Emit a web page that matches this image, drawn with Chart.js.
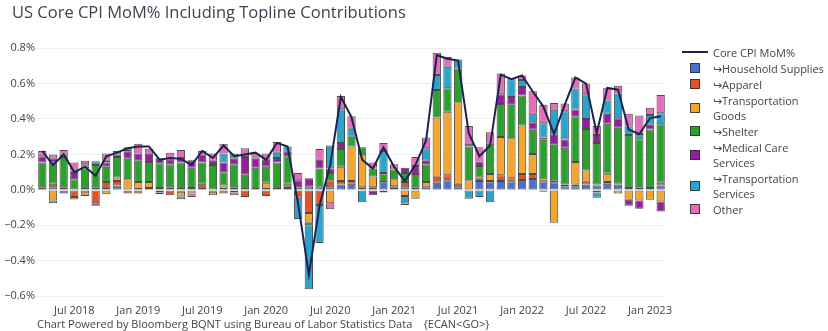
<!DOCTYPE html>
<html>
<head>
<meta charset="utf-8">
<script src="https://cdn.jsdelivr.net/npm/chart.js@4.4.0/dist/chart.umd.min.js"></script>
<style>
  body { margin: 0; background: #fff; }
  #wrap { position: relative; width: 828px; height: 331px; overflow: hidden; font-family: 'Open Sans', sans-serif; color: #444; }
  #cpiChart { position: absolute; left: 0; top: 0; }
  #title { position: absolute; left: 12px; top: 1px; font-size: 16.5px; line-height: 22px; color: #3d4450; white-space: nowrap; }
  #footer { position: absolute; left: 37px; top: 317px; font-size: 11px; line-height: 14px; white-space: pre; }
  #legend { position: absolute; left: 682px; top: 44.5px; font-size: 11px; }
  .item { display: flex; align-items: center; line-height: 15px; margin-bottom: 1px; }
  .sym { width: 26px; flex: none; display: flex; justify-content: center; margin-right: 5px; }
  .sym i { display: block; }
  .sym.box i { width: 10px; height: 10px; box-sizing: border-box; border: 1px solid rgba(45,45,45,0.85); }
  .sym.line i { width: 26px; height: 2px; background: #1d2251; }
  .txt { white-space: pre-line; }
</style>
</head>
<body>
<div id="wrap">
  <canvas id="cpiChart" width="828" height="331"></canvas>
  <div id="title">US Core CPI MoM% Including Topline Contributions</div>
  <div id="legend"></div>
  <div id="footer">Chart Powered by Bloomberg BQNT using Bureau of Labor Statistics Data    {ECAN&lt;GO&gt;}</div>
</div>
<script>
// data months (plotted at month end)
const months = [
  '2018-03','2018-04','2018-05','2018-06','2018-07','2018-08','2018-09','2018-10','2018-11','2018-12',
  '2019-01','2019-02','2019-03','2019-04','2019-05','2019-06','2019-07','2019-08','2019-09','2019-10','2019-11','2019-12',
  '2020-01','2020-02','2020-03','2020-04','2020-05','2020-06','2020-07','2020-08','2020-09','2020-10','2020-11','2020-12',
  '2021-01','2021-02','2021-03','2021-04','2021-05','2021-06','2021-07','2021-08','2021-09','2021-10','2021-11','2021-12',
  '2022-01','2022-02','2022-03','2022-04','2022-05','2022-06','2022-07','2022-08','2022-09','2022-10','2022-11','2022-12',
  '2023-01'
];

const coreCpi = [
  0.22, 0.14, 0.20, 0.10, 0.13, 0.08, 0.19, 0.21, 0.235, 0.245,
  0.245, 0.17, 0.18, 0.175, 0.14, 0.22, 0.18, 0.25, 0.19, 0.20, 0.21, 0.17,
  0.265, 0.245, -0.08, -0.48, -0.09, 0.14, 0.525, 0.41, 0.17, 0.12, 0.24, 0.13,
  0.05, 0.14, 0.28, 0.76, 0.74, 0.73, 0.32, 0.19, 0.25, 0.65, 0.625, 0.645,
  0.555, 0.47, 0.315, 0.48, 0.635, 0.60, 0.32, 0.575, 0.565, 0.34, 0.315, 0.405,
  0.415
];

const household = [
  0.005, 0.015, -0.02, 0.0, 0.005, 0.01, 0.005, 0.025, 0.0, 0.005,
  0.01, 0.01, 0.01, -0.01, 0.005, 0.005, -0.01, 0.005, 0.01, 0.005, 0.005, 0.005,
  0.005, 0.01, 0.0, 0.02, 0.02, 0.015, 0.03, 0.035, 0.005, 0.01, 0.04, 0.005,
  0.015, 0.005, 0.015, 0.04, 0.055, 0.015, 0.0, 0.05, 0.04, 0.05, 0.04, 0.056,
  0.062, 0.04, 0.043, 0.02, 0.02, 0.03, 0.025, 0.034, 0.03, 0.01, 0.01, 0.005,
  0.025
];

const apparel = [
  0.01, 0.02, 0.005, -0.04, -0.02, -0.075, 0.04, 0.025, -0.02, -0.02,
  0.0, 0.0, -0.03, 0.005, 0.005, 0.03, 0.0, -0.02, 0.005, -0.04, 0.0, -0.035,
  0.0, 0.01, -0.045, -0.13, -0.085, 0.04, 0.02, 0.015, 0.01, 0.005, 0.005, 0.015,
  0.03, 0.01, 0.0, 0.034, 0.028, 0.02, 0.0, 0.02, 0.01, 0.032, 0.025, 0.034,
  0.028, 0.018, 0.012, 0.01, 0.011, 0.023, 0.005, 0.01, 0.005, 0.0, 0.005, 0.005,
  0.015
];

const transGoods = [
  -0.005, -0.06, 0.01, -0.015, -0.015, 0.005, -0.025, 0.02, 0.06, 0.04,
  0.034, -0.015, 0.005, -0.028, -0.02, 0.0, -0.02, 0.02, -0.015, 0.0, 0.0, 0.035,
  0.0, 0.015, 0.0, -0.055, 0.0, -0.075, 0.08, 0.195, 0.18, 0.06, -0.015, 0.04,
  -0.035, -0.05, 0.03, 0.335, 0.358, 0.46, 0.055, 0.0, 0.04, 0.217, 0.226, 0.273,
  0.113, -0.01, -0.185, 0.0, 0.126, 0.056, -0.015, 0.047, -0.02, -0.056, -0.06, -0.056,
  -0.066
];

const shelter = [
  0.14, 0.12, 0.17, 0.06, 0.115, 0.125, 0.085, 0.115, 0.115, 0.12,
  0.113, 0.14, 0.13, 0.15, 0.115, 0.12, 0.14, 0.075, 0.13, 0.08, 0.12, 0.09,
  0.15, 0.155, 0.015, -0.015, 0.1, 0.04, 0.1, 0.055, 0.045, 0.045, 0.04, 0.055,
  0.05, 0.075, 0.1, 0.154, 0.132, 0.19, 0.19, 0.065, 0.17, 0.185, 0.19, 0.17,
  0.136, 0.225, 0.2, 0.207, 0.258, 0.235, 0.235, 0.282, 0.316, 0.3, 0.27, 0.33,
  0.33
];

const medical = [
  0.035, 0.02, 0.005, 0.035, 0.01, -0.015, 0.025, 0.015, 0.04, 0.04,
  0.047, 0.025, 0.025, 0.025, 0.04, 0.045, 0.025, 0.055, 0.03, 0.1, 0.05, 0.04,
  0.025, 0.025, 0.04, 0.045, 0.05, 0.025, 0.035, 0.0, 0.0, -0.03, 0.01, 0.0,
  0.03, 0.045, 0.02, 0.0, 0.0, 0.0, 0.015, 0.025, 0.0, 0.055, 0.043, 0.047,
  0.043, 0.013, 0.056, 0.047, 0.038, 0.056, 0.045, 0.056, 0.053, -0.033, -0.047, 0.028,
  -0.056
];

const transServ = [
  0.0, -0.015, 0.0, 0.015, 0.015, 0.02, 0.01, 0.02, 0.005, 0.0,
  -0.005, -0.01, 0.0, -0.015, 0.005, 0.0, 0.0, 0.05, 0.03, 0.0, 0.0, 0.0,
  0.03, 0.03, -0.12, -0.36, -0.215, 0.13, 0.19, 0.045, -0.07, 0.005, 0.125, 0.0,
  -0.035, 0.0, 0.07, 0.085, 0.122, 0.05, -0.05, -0.04, -0.07, 0.0, 0.1, 0.04,
  0.047, 0.08, 0.141, 0.16, 0.119, 0.14, -0.03, 0.075, 0.14, 0.048, 0.03, 0.055,
  0.062
];

const other = [
  0.03, 0.025, 0.035, 0.045, 0.02, 0.005, 0.04, 0.0, 0.02, 0.055,
  0.028, 0.005, 0.04, 0.045, -0.02, 0.02, 0.04, 0.055, -0.015, 0.05, 0.03, 0.035,
  0.06, 0.0, 0.04, 0.0, 0.06, -0.035, 0.075, 0.07, 0.0, 0.03, 0.045, 0.03,
  -0.015, 0.05, 0.06, 0.125, 0.055, 0.0, 0.1, 0.08, 0.065, 0.118, 0.005, 0.025,
  0.128, 0.105, 0.038, 0.043, 0.062, 0.06, 0.05, 0.072, 0.044, 0.072, 0.105, 0.04,
  0.104
];

const seriesNames = [
  '↪Household Supplies', '↪Apparel', '↪Transportation\nGoods', '↪Shelter',
  '↪Medical Care\nServices', '↪Transportation\nServices', 'Other'
];
const seriesColors = ['#4a6fd0', '#e0532b', '#f5a52a', '#2ca02c', '#951d9e', '#27a5cc', '#e86ab8'];
const seriesValues = [household, apparel, transGoods, shelter, medical, transServ, other];

const textColor = '#444';
const tickFont = { family: "'Open Sans', sans-serif", size: 11 };

// month-end dates sit on the next month's tick, so label Jun/Dec as Jul/Jan
function monthTick(idx) {
  const [y, m] = months[idx].split('-').map(Number);
  if (m === 6) return 'Jul ' + y;
  if (m === 12) return 'Jan ' + (y + 1);
  return null;
}

function pctTick(v) {
  const s = Math.abs(v).toFixed(1) + '%';
  return v < -1e-9 ? '\u2212' + s : s;
}

const datasets = [{
  type: 'line',
  label: 'Core CPI MoM%',
  data: coreCpi,
  borderColor: '#1d2251',
  borderWidth: 2,
  pointRadius: 0,
  tension: 0,
  stack: 'core',
  order: 0
}];

seriesValues.forEach((vals, i) => {
  datasets.push({
    type: 'bar',
    label: seriesNames[i],
    data: vals,
    backgroundColor: seriesColors[i],
    borderColor: 'rgba(45,45,45,0.85)',
    borderWidth: 1,
    borderSkipped: false,
    stack: 'parts',
    order: 1,
    barPercentage: 0.78,
    categoryPercentage: 1.0
  });
});

const chart = new Chart(document.getElementById('cpiChart'), {
  data: { labels: months, datasets: datasets },
  options: {
    responsive: false,
    animation: false,
    layout: { padding: { top: 41, right: 162, left: 0, bottom: 0 } },
    plugins: { legend: { display: false }, tooltip: { enabled: false } },
    scales: {
      x: {
        stacked: true,
        grid: { display: false, drawTicks: false },
        border: { display: false },
        ticks: {
          autoSkip: false, maxRotation: 0, padding: 3,
          color: textColor, font: tickFont,
          callback: (v, idx) => monthTick(idx)
        },
        afterFit: s => { s.height = 30; }
      },
      y: {
        stacked: true,
        min: -0.627,
        max: 0.84,
        grid: { color: '#ebf0f8', drawTicks: false },
        border: { display: false },
        ticks: {
          stepSize: 0.2, includeBounds: false, padding: 2,
          color: textColor, font: tickFont,
          callback: v => pctTick(v)
        },
        afterFit: s => { s.width = 37; }
      }
    }
  }
});

// html legend: line first, then the contribution series
const legendEl = document.getElementById('legend');
chart.data.datasets.forEach(ds => {
  const item = document.createElement('div');
  item.className = 'item';
  const sym = document.createElement('span');
  sym.className = 'sym ' + (ds.type === 'line' ? 'line' : 'box');
  const mark = document.createElement('i');
  if (ds.type !== 'line') mark.style.background = ds.backgroundColor;
  sym.appendChild(mark);
  const txt = document.createElement('span');
  txt.className = 'txt';
  txt.textContent = ds.label;
  item.appendChild(sym);
  item.appendChild(txt);
  legendEl.appendChild(item);
});
</script>
</body>
</html>
